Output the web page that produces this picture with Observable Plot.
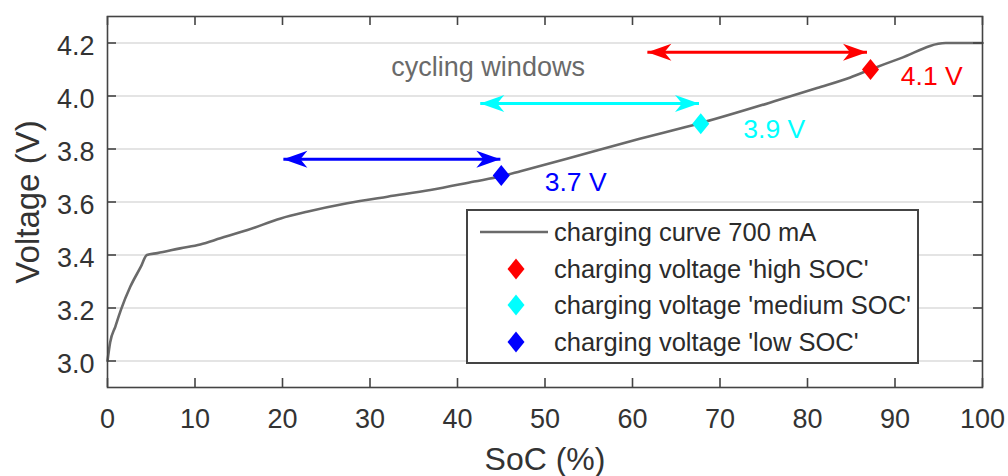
<!DOCTYPE html>
<html>
<head>
<meta charset="utf-8">
<script src="https://cdn.jsdelivr.net/npm/d3@7"></script>
<script src="https://cdn.jsdelivr.net/npm/@observablehq/plot@0.6"></script>
<style>
  html, body { margin: 0; padding: 0; background: #fff; }
  #wrap { position: relative; width: 1008px; height: 476px; font-family: "Liberation Sans", Arial, Helvetica, sans-serif; }
  #legend { position: absolute; left: 466px; top: 209px; width: 453px; height: 155px; box-sizing: border-box;
            border: 2px solid #444; background: #fff; }
  .row { position: absolute; left: 0; height: 30px; width: 100%; }
  .row svg { position: absolute; left: 0; top: 0; }
  .row span { position: absolute; left: 86px; top: 0; line-height: 30px; font-size: 25.5px; color: #2b2b2b; white-space: nowrap; }
</style>
</head>
<body>
<div id="wrap"></div>
<script>
// ---- data ----
const soc = [0, 0.3, 0.9, 1.5, 2.6, 3.8, 4.5, 5.7, 8.3, 10.6, 12.9, 16.0, 19.8, 22.8, 27.4, 32.0, 36.9, 41.9, 45.0, 47.2, 52.5, 60.2, 67.8, 76.2, 81.1, 84.9, 87.2, 90.6, 95.8, 100];
const voltage = [3.0, 3.07, 3.13, 3.19, 3.28, 3.355, 3.40, 3.407, 3.425, 3.44, 3.463, 3.494, 3.538, 3.563, 3.595, 3.62, 3.645, 3.677, 3.697, 3.716, 3.763, 3.833, 3.898, 3.98, 4.03, 4.07, 4.10, 4.142, 4.2, 4.2];

const windowNames = ["high SOC", "medium SOC", "low SOC"];
const windowColors = ["#ff0000", "#00ffff", "#0000ff"];
const chargeSoc = [87.2, 67.8, 45.0];
const chargeVoltage = [4.10, 3.895, 3.70];
const arrowFrom = [61.7, 42.6, 20.1];
const arrowTo = [86.8, 67.6, 44.9];
const arrowVoltage = [4.165, 3.972, 3.761];
const valueLabels = ["4.1 V", "3.9 V", "3.7 V"];
const valueLabelSoc = [94.2, 76.2, 53.5];
const valueLabelVoltage = [4.074, 3.872, 3.675];

const noteText = ["cycling windows"];
const noteSoc = [43.5];
const noteVoltage = [4.107];

const xTicks = [0, 10, 20, 30, 40, 50, 60, 70, 80, 90, 100];
const yTicks = [3.0, 3.2, 3.4, 3.6, 3.8, 4.0, 4.2];
const xDomain = [0, 100];
const yDomain = [2.9, 4.3];
const xLabel = "SoC (%)";
const yLabel = "Voltage (V)";
const curveName = "charging curve 700 mA";

// ---- build tables ----
const curve = soc.map((s, i) => ({soc: s, v: voltage[i]}));
const wins = windowNames.map((n, i) => ({
  name: n, color: windowColors[i],
  px: chargeSoc[i], pv: chargeVoltage[i],
  x1: arrowFrom[i], x2: arrowTo[i], ay: arrowVoltage[i],
  label: valueLabels[i], lx: valueLabelSoc[i], lv: valueLabelVoltage[i]
}));
const notes = noteText.map((t, i) => ({t, x: noteSoc[i], y: noteVoltage[i]}));

// ---- layout / style ----
const W = 1008, H = 476, mL = 107, mR = 26, mT = 16, mB = 89;
const fw = W - mL - mR, fh = H - mT - mB, tk = 9;
const axisColor = "#444";
const font = "'Liberation Sans', Arial, Helvetica, sans-serif";

const headRight = {draw(c) { c.moveTo(0, 0); c.lineTo(-24, -8.5); c.lineTo(-17, 0); c.lineTo(-24, 8.5); c.closePath(); }};
const headLeft  = {draw(c) { c.moveTo(0, 0); c.lineTo(24, -8.5); c.lineTo(17, 0); c.lineTo(24, 8.5); c.closePath(); }};
const diamond   = {draw(c) { c.moveTo(0, -10.5); c.lineTo(8.5, 0); c.lineTo(0, 10.5); c.lineTo(-8.5, 0); c.closePath(); }};

const chart = Plot.plot({
  width: W, height: H,
  marginLeft: mL, marginRight: mR, marginTop: mT, marginBottom: mB,
  x: {domain: xDomain},
  y: {domain: yDomain},
  color: {type: "identity"},
  style: {fontFamily: font, background: "#fff", overflow: "visible"},
  marks: [
    Plot.gridY(yTicks, {stroke: "#e4e4e4", strokeOpacity: 1, strokeWidth: 2}),
    Plot.line(curve, {x: "soc", y: "v", stroke: "#6a6a6a", strokeWidth: 2.6, curve: "monotone-x"}),
    // double arrows: shaft + filled heads
    Plot.link(wins, {x1: "x1", x2: "x2", y1: "ay", y2: "ay", stroke: d => d.color, strokeWidth: 3}),
    Plot.dot(wins, {x: "x2", y: "ay", symbol: headRight, fill: d => d.color, stroke: null, r: 10}),
    Plot.dot(wins, {x: "x1", y: "ay", symbol: headLeft, fill: d => d.color, stroke: null, r: 10}),
    // charging voltage markers
    Plot.dot(wins, {x: "px", y: "pv", symbol: diamond, fill: d => d.color, stroke: null, r: 10}),
    Plot.text(wins, {x: "lx", y: "lv", text: "label", fill: d => d.color, fontSize: 26.5, textAnchor: "middle"}),
    Plot.text(notes, {x: "x", y: "y", text: "t", fill: "#6a6a6a", fontSize: 27, textAnchor: "middle"}),
    // frame and inward ticks
    Plot.frame({stroke: axisColor, strokeWidth: 1.6}),
    Plot.ruleX(xTicks, {stroke: axisColor, strokeWidth: 1.6, insetTop: fh - tk}),
    Plot.ruleX(xTicks, {stroke: axisColor, strokeWidth: 1.6, insetBottom: fh - tk}),
    Plot.ruleY(yTicks, {stroke: axisColor, strokeWidth: 1.6, insetRight: fw - tk}),
    Plot.ruleY(yTicks, {stroke: axisColor, strokeWidth: 1.6, insetLeft: fw - tk}),
    // tick labels
    Plot.axisX(xTicks, {tickSize: 0, tickPadding: 21, fontSize: 27, fill: "#333", label: null}),
    Plot.axisY(yTicks, {tickSize: 0, tickPadding: 13, fontSize: 27, fill: "#333", label: null, tickFormat: d3.format(".1f"), dy: 3}),
    // axis titles
    Plot.text([xLabel], {frameAnchor: "bottom", lineAnchor: "middle", dy: 72, fontSize: 32, fill: "#333", textAnchor: "middle"}),
    Plot.text([yLabel], {frameAnchor: "left", lineAnchor: "middle", dx: -79, rotate: -90, fontSize: 33, fill: "#333", textAnchor: "middle"})
  ]
});

const wrap = document.getElementById("wrap");
wrap.appendChild(chart);

// ---- legend (HTML overlay inside the axes) ----
const legend = document.createElement("div");
legend.id = "legend";
const rows = [{name: curveName, kind: "line", color: "#6a6a6a"}]
  .concat(wins.map(w => ({name: "charging voltage '" + w.name + "'", kind: "diamond", color: w.color})));
rows.forEach((r, i) => {
  const row = document.createElement("div");
  row.className = "row";
  row.style.top = (21 + i * 36.5 - 15) + "px";
  const svg = d3.create("svg").attr("width", 86).attr("height", 30);
  if (r.kind === "line") {
    svg.append("line").attr("x1", 12).attr("x2", 80).attr("y1", 15).attr("y2", 15)
      .attr("stroke", r.color).attr("stroke-width", 2.6);
  } else {
    svg.append("path").attr("d", "M48,4.5L56.5,15L48,25.5L39.5,15Z").attr("fill", r.color);
  }
  row.appendChild(svg.node());
  const span = document.createElement("span");
  span.textContent = r.name;
  row.appendChild(span);
  legend.appendChild(row);
});
wrap.appendChild(legend);
</script>
</body>
</html>
